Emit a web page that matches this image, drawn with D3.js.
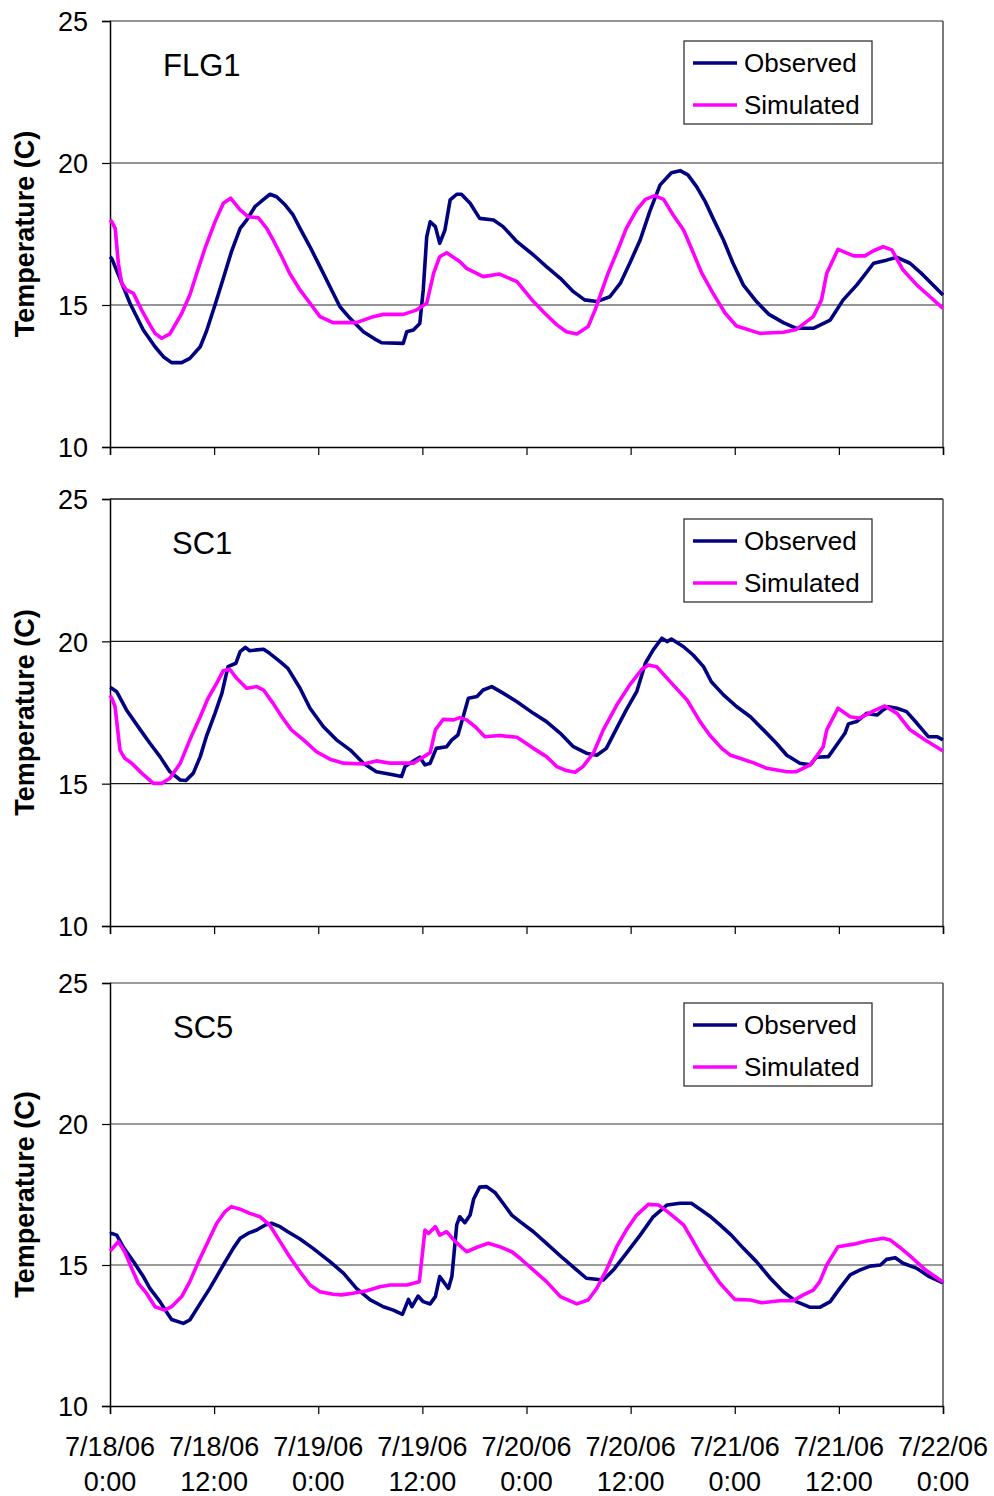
<!DOCTYPE html>
<html>
<head>
<meta charset="utf-8">
<script src="https://cdn.jsdelivr.net/npm/d3@7"></script>
<style>
  html, body { margin: 0; padding: 0; background: #fff; }
  svg { display: block; font-family: "Liberation Sans", Arial, sans-serif; }
</style>
</head>
<body>
<svg id="chart" width="994" height="1496"></svg>
<script>
// Hours since 7/18/06 0:00 paired with water temperature (°C)
const flg1Observed = [[0,16.7],[0.2,16.64],[2.3,15.06],[3.84,14.12],[5.19,13.53],[6.15,13.18],[7.1,12.97],[8.26,12.97],[9.2,13.12],[10.4,13.53],[11.1,14.06],[12.1,15.0],[13.06,15.94],[14.0,16.88],[15.0,17.7],[15.75,17.99],[16.7,18.46],[17.7,18.72],[18.44,18.9],[19.2,18.81],[20.2,18.52],[21.1,18.17],[21.9,17.7],[23.05,17.05],[24.2,16.35],[25.35,15.64],[26.5,14.94],[27.66,14.53],[29.2,14.06],[30.7,13.77],[31.3,13.67],[33.8,13.65],[34.2,14.06],[34.96,14.12],[35.7,14.35],[36.1,15.53],[36.5,17.4],[36.9,17.93],[37.5,17.76],[38.0,17.17],[38.6,17.64],[39.2,18.7],[39.96,18.9],[40.5,18.9],[41.5,18.58],[42.6,18.05],[44.2,17.99],[45.3,17.76],[46.9,17.23],[48.8,16.76],[50.3,16.35],[51.9,15.94],[53.4,15.47],[54.7,15.18],[56.1,15.12],[57.6,15.29],[58.8,15.76],[59.9,16.47],[61.1,17.29],[62.2,18.29],[63.4,19.23],[64.7,19.66],[65.7,19.73],[66.6,19.58],[67.6,19.17],[68.6,18.64],[69.5,18.05],[70.7,17.29],[71.8,16.47],[73.0,15.7],[74.5,15.12],[75.9,14.68],[77.6,14.38],[79.1,14.18],[81.05,14.18],[83.0,14.47],[84.5,15.18],[86.05,15.7],[88.0,16.47],[89.5,16.58],[90.7,16.68],[92.2,16.47],[93.7,16.06],[96.0,15.35]];
const flg1Simulated = [[0,18.0],[0.2,17.93],[0.6,17.7],[0.96,16.47],[1.35,15.76],[1.9,15.53],[2.7,15.41],[3.65,14.82],[4.6,14.3],[5.19,14.0],[5.96,13.83],[6.9,13.98],[8.26,14.7],[9.2,15.35],[10.0,16.12],[10.95,17.0],[12.1,17.93],[13.06,18.58],[13.9,18.76],[15.0,18.35],[15.9,18.11],[17.1,18.07],[18.06,17.7],[18.8,17.29],[19.8,16.7],[20.7,16.12],[21.9,15.53],[23.05,15.06],[24.2,14.59],[25.7,14.38],[28.4,14.38],[30.35,14.59],[31.5,14.67],[33.8,14.67],[35.3,14.82],[36.5,15.06],[37.3,16.12],[38.0,16.7],[38.8,16.84],[40.3,16.53],[41.1,16.29],[43.0,16.0],[44.9,16.09],[46.9,15.82],[48.8,15.12],[50.1,14.71],[51.5,14.3],[52.6,14.06],[53.8,13.98],[55.1,14.24],[55.9,14.82],[57.4,16.12],[58.6,17.0],[59.5,17.7],[60.7,18.35],[61.7,18.72],[62.8,18.85],[63.8,18.72],[64.9,18.17],[66.1,17.64],[67.0,17.0],[68.2,16.12],[69.5,15.41],[70.9,14.71],[72.2,14.26],[74.9,14.0],[77.6,14.04],[79.1,14.14],[81.05,14.59],[82.0,15.18],[82.6,16.12],[83.9,16.96],[85.7,16.73],[87.0,16.73],[88.0,16.91],[89.1,17.05],[90.1,16.94],[91.4,16.23],[93.0,15.7],[94.5,15.29],[96.0,14.88]];

const sc1Observed = [[0,18.38],[0.2,18.35],[0.77,18.23],[1.9,17.59],[3.5,16.89],[4.6,16.42],[5.76,15.95],[6.9,15.42],[8.1,15.13],[8.76,15.11],[9.6,15.37],[10.4,15.95],[11.1,16.65],[12.1,17.47],[12.9,18.18],[13.6,19.11],[14.5,19.23],[15.0,19.64],[15.6,19.79],[16.1,19.67],[16.9,19.7],[17.7,19.72],[18.4,19.58],[19.6,19.29],[20.5,19.05],[21.9,18.35],[23.05,17.65],[24.6,17.0],[26.1,16.54],[27.7,16.18],[29.2,15.72],[30.7,15.42],[32.3,15.33],[33.6,15.25],[34.0,15.6],[35.15,15.83],[35.7,15.93],[36.3,15.66],[36.9,15.72],[37.6,16.24],[38.8,16.3],[39.4,16.54],[40.1,16.71],[40.7,17.35],[41.3,18.0],[42.3,18.06],[43.0,18.29],[44.0,18.41],[45.3,18.18],[46.9,17.88],[48.8,17.47],[50.3,17.18],[51.9,16.77],[53.4,16.3],[54.9,16.07],[56.1,16.0],[57.2,16.24],[58.4,16.95],[59.5,17.59],[60.7,18.23],[61.7,19.23],[62.6,19.7],[63.6,20.11],[64.2,19.99],[64.7,20.08],[66.1,19.81],[67.2,19.52],[68.4,19.11],[69.3,18.58],[70.7,18.12],[72.2,17.71],[73.8,17.35],[75.3,16.89],[76.8,16.42],[78.0,16.0],[79.5,15.72],[80.7,15.66],[81.4,15.93],[82.8,15.95],[83.6,16.3],[84.7,16.77],[85.1,17.1],[86.05,17.18],[87.2,17.47],[88.4,17.41],[89.1,17.59],[89.7,17.7],[90.7,17.65],[91.8,17.53],[93.0,17.12],[94.3,16.65],[95.3,16.65],[96.0,16.54]];
const sc1Simulated = [[0,18.1],[0.2,18.0],[0.58,17.71],[1.15,16.18],[1.7,15.89],[2.5,15.72],[3.65,15.37],[5.0,15.01],[5.96,15.01],[6.9,15.19],[8.1,15.72],[9.2,16.54],[10.4,17.35],[11.3,18.0],[12.3,18.53],[13.06,18.97],[13.8,19.02],[14.6,18.7],[15.75,18.35],[16.9,18.41],[17.7,18.29],[18.8,17.82],[19.8,17.35],[20.9,16.89],[22.3,16.54],[23.8,16.12],[25.35,15.86],[26.9,15.72],[29.2,15.69],[30.7,15.8],[32.3,15.72],[34.96,15.72],[35.7,15.86],[36.9,16.09],[37.5,16.89],[38.4,17.26],[39.6,17.24],[40.3,17.32],[41.1,17.24],[42.1,17.0],[43.2,16.65],[44.9,16.69],[46.9,16.63],[48.8,16.24],[50.3,15.95],[51.5,15.6],[52.6,15.46],[53.6,15.4],[54.5,15.6],[55.7,16.07],[56.85,16.89],[58.4,17.76],[59.9,18.47],[61.3,19.02],[62.05,19.17],[63.0,19.11],[64.9,18.47],[66.5,17.94],[68.0,17.18],[69.1,16.71],[70.5,16.24],[71.5,16.0],[72.6,15.89],[74.1,15.74],[75.7,15.54],[78.0,15.42],[79.1,15.42],[80.7,15.66],[81.4,15.95],[82.2,16.3],[82.6,16.89],[83.9,17.65],[85.3,17.35],[86.4,17.3],[88.0,17.56],[89.3,17.73],[90.7,17.47],[92.2,16.89],[93.9,16.54],[96.0,16.15]];

const sc5Observed = [[0,16.1],[0.2,16.12],[0.77,16.06],[1.5,15.65],[2.7,15.12],[3.84,14.59],[4.6,14.17],[5.76,13.7],[6.5,13.34],[7.1,13.07],[8.45,12.93],[9.2,13.05],[10.4,13.64],[11.5,14.17],[13.06,15.0],[14.2,15.59],[15.0,15.95],[15.9,16.12],[16.9,16.24],[17.9,16.42],[18.6,16.48],[19.6,16.36],[20.5,16.18],[21.9,15.92],[23.4,15.59],[25.35,15.12],[26.9,14.71],[28.4,14.17],[30.0,13.76],[31.5,13.52],[32.65,13.4],[33.7,13.25],[34.4,13.78],[34.8,13.52],[35.5,13.9],[36.1,13.7],[36.9,13.62],[37.5,13.88],[38.0,14.59],[39.0,14.17],[39.4,14.59],[39.96,16.42],[40.3,16.71],[40.9,16.5],[41.5,16.77],[41.9,17.33],[42.6,17.76],[43.4,17.78],[44.4,17.56],[45.3,17.19],[46.3,16.77],[47.25,16.54],[48.8,16.18],[50.3,15.77],[52.2,15.24],[53.8,14.82],[54.9,14.53],[56.85,14.47],[58.0,14.82],[59.5,15.41],[61.1,16.06],[62.6,16.71],[64.2,17.13],[65.7,17.19],[67.0,17.19],[68.0,16.98],[69.1,16.74],[70.3,16.42],[71.6,16.06],[73.0,15.59],[74.5,15.12],[76.1,14.53],[77.6,14.05],[79.1,13.7],[80.7,13.5],[81.8,13.5],[83.0,13.7],[84.1,14.17],[85.3,14.65],[86.4,14.82],[87.6,14.96],[88.8,15.0],[89.5,15.2],[90.5,15.26],[91.4,15.06],[93.0,14.88],[94.3,14.61],[96.0,14.37]];
const sc5Simulated = [[0,15.5],[0.2,15.56],[0.96,15.83],[1.7,15.47],[2.5,14.88],[3.26,14.35],[4.2,14.0],[5.19,13.52],[6.3,13.4],[7.1,13.52],[8.26,13.88],[9.2,14.41],[10.2,15.12],[11.3,15.83],[12.3,16.48],[13.25,16.89],[14.0,17.07],[15.0,16.98],[16.1,16.83],[17.3,16.71],[18.4,16.42],[19.6,15.83],[20.7,15.29],[21.9,14.76],[23.05,14.29],[24.2,14.05],[25.7,13.96],[26.7,13.94],[28.0,14.0],[29.6,14.09],[31.1,14.23],[32.3,14.29],[34.2,14.29],[35.65,14.41],[36.3,16.24],[36.7,16.12],[37.5,16.36],[38.0,16.06],[38.8,16.18],[39.8,15.83],[41.1,15.47],[42.3,15.63],[43.6,15.77],[44.9,15.65],[46.3,15.47],[47.25,15.24],[48.8,14.82],[50.3,14.41],[51.9,13.88],[53.8,13.62],[55.1,13.76],[56.1,14.17],[57.2,14.82],[58.4,15.65],[59.5,16.24],[60.7,16.77],[62.05,17.15],[63.2,17.13],[64.5,16.83],[66.1,16.42],[67.0,15.95],[68.0,15.41],[69.1,14.88],[70.3,14.35],[72.0,13.78],[73.8,13.76],[75.1,13.66],[77.2,13.73],[78.7,13.73],[79.9,13.94],[81.05,14.11],[81.8,14.41],[82.6,15.0],[83.9,15.65],[85.7,15.74],[87.2,15.85],[89.1,15.95],[89.9,15.89],[91.0,15.63],[92.5,15.24],[94.0,14.82],[96.0,14.4]];

const stations = ["FLG1", "SC1", "SC5"];
const seriesNames = ["Observed", "Simulated"];
const seriesColors = ["#000080", "#FF00FF"];
const yTicks = [10, 15, 20, 25];
const gridValues = [15, 20, 25];
const xTickHours = [0, 12, 24, 36, 48, 60, 72, 84, 96];
const xDateLabels = ["7/18/06", "7/18/06", "7/19/06", "7/19/06", "7/20/06", "7/20/06", "7/21/06", "7/21/06", "7/22/06"];
const xTimeLabels = ["0:00", "12:00", "0:00", "12:00", "0:00", "12:00", "0:00", "12:00", "0:00"];
const yAxisTitle = "Temperature (C)";

const panelData = [
  [flg1Observed, flg1Simulated],
  [sc1Observed, sc1Simulated],
  [sc5Observed, sc5Simulated]
];

const svg = d3.select("#chart");
const left = 110, right = 943;
const panels = [
  { top: 21, bottom: 447, titleX: 163, gridColor: "#707070" },
  { top: 499, bottom: 926, titleX: 172, gridColor: "#1a1a1a" },
  { top: 983, bottom: 1406, titleX: 173, gridColor: "#7a7a7a" }
];

const x = d3.scaleLinear().domain([0, 96]).range([left, right]);

panels.forEach((p, i) => {
  const y = d3.scaleLinear().domain([10, 25]).range([p.bottom, p.top]);
  const g = svg.append("g");

  // horizontal gridlines
  g.selectAll("line.grid").data(gridValues).join("line")
    .attr("x1", left).attr("x2", right)
    .attr("y1", d => y(d)).attr("y2", d => y(d))
    .attr("stroke", p.gridColor).attr("stroke-width", 1.3);

  // right edge of the plot area
  g.append("line")
    .attr("x1", right).attr("x2", right)
    .attr("y1", p.top).attr("y2", p.bottom)
    .attr("stroke", "#333").attr("stroke-width", 1.3);

  // y axis
  const yAxis = d3.axisLeft(y).tickValues(yTicks).tickSize(8).tickPadding(14).tickFormat(d3.format("d"));
  const ya = g.append("g").attr("transform", `translate(${left},0)`).call(yAxis);
  ya.select(".domain").attr("stroke", "#000").attr("stroke-width", 1.5);
  ya.selectAll(".tick line").attr("stroke", "#000").attr("stroke-width", 1.2);
  ya.selectAll(".tick text")
    .attr("font-family", "Liberation Sans, Arial, sans-serif")
    .attr("font-size", 27).attr("fill", "#000")
    .attr("dy", "0.36em");

  // x axis
  const xAxis = d3.axisBottom(x).tickValues(xTickHours).tickSize(8).tickFormat("");
  const xa = g.append("g").attr("transform", `translate(0,${p.bottom})`).call(xAxis);
  xa.select(".domain").attr("stroke", "#000").attr("stroke-width", 1.5);
  xa.selectAll(".tick line").attr("stroke", "#000").attr("stroke-width", 1.2);

  // y axis title
  g.append("text")
    .attr("transform", `translate(34,${(p.top + p.bottom) / 2}) rotate(-90)`)
    .attr("text-anchor", "middle")
    .attr("font-size", 27).attr("font-weight", "bold")
    .text(yAxisTitle);

  // station name
  g.append("text")
    .attr("x", p.titleX).attr("y", p.top + 55)
    .attr("font-size", 31)
    .text(stations[i]);

  // series lines
  const line = d3.line().x(d => x(d[0])).y(d => y(d[1]));
  panelData[i].forEach((series, k) => {
    g.append("path")
      .datum(series)
      .attr("d", line)
      .attr("fill", "none")
      .attr("stroke", seriesColors[k])
      .attr("stroke-width", 3.6)
      .attr("stroke-linejoin", "round");
  });

  // legend
  const lg = g.append("g").attr("transform", `translate(684,${p.top + 20})`);
  lg.append("rect").attr("width", 188).attr("height", 83)
    .attr("fill", "#fff").attr("stroke", "#222").attr("stroke-width", 1.2);
  seriesNames.forEach((name, k) => {
    const ly = 22 + k * 42;
    lg.append("line").attr("x1", 9).attr("x2", 53).attr("y1", ly).attr("y2", ly)
      .attr("stroke", seriesColors[k]).attr("stroke-width", 3.4);
    lg.append("text").attr("x", 60).attr("y", ly + 9)
      .attr("font-size", 26).text(name);
  });

  // date/time labels under the bottom panel only
  if (i === panels.length - 1) {
    const lab = g.append("g");
    lab.selectAll("text.date").data(xTickHours).join("text")
      .attr("x", d => x(d)).attr("y", p.bottom + 50)
      .attr("text-anchor", "middle").attr("font-size", 27)
      .text((d, j) => xDateLabels[j]);
    lab.selectAll("text.time").data(xTickHours).join("text")
      .attr("x", d => x(d)).attr("y", p.bottom + 85)
      .attr("text-anchor", "middle").attr("font-size", 27)
      .text((d, j) => xTimeLabels[j]);
  }
});
</script>
</body>
</html>
